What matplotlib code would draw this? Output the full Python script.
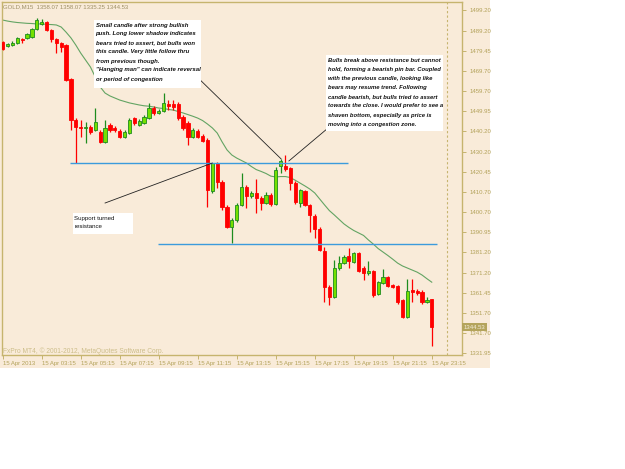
import numpy as np
import matplotlib.pyplot as plt
from matplotlib.patches import Rectangle

W, H = 625, 469

# GOLD M15 candles, 15 Apr 2013
opens = [1483.6, 1481.7, 1482.1, 1483.1, 1485.1, 1485.6, 1486.0, 1489.9, 1492.4, 1493.4,
         1489.5, 1485.1, 1483.1, 1482.1, 1465.6, 1445.6, 1442.2, 1441.7, 1442.2, 1440.7,
         1439.7, 1434.8, 1443.1, 1441.7, 1440.2, 1437.3, 1439.2, 1446.5, 1443.1, 1444.1,
         1446.5, 1451.4, 1449.0, 1450.0, 1453.4, 1453.4, 1453.4, 1447.0, 1444.1, 1437.3,
         1440.2, 1437.8, 1435.8, 1410.9, 1424.6, 1415.3, 1403.2, 1393.4, 1396.8, 1404.2,
         1412.9, 1408.5, 1410.0, 1407.5, 1405.1, 1409.0, 1404.6, 1423.2, 1423.1, 1422.1,
         1414.8, 1405.1, 1410.9, 1404.2, 1398.7, 1392.4, 1381.7, 1364.1, 1359.3, 1373.4,
         1375.8, 1379.3, 1376.3, 1380.7, 1373.4, 1371.0, 1371.9, 1360.7, 1366.1, 1369.0,
         1365.1, 1364.6, 1357.7, 1349.5, 1362.7, 1362.2, 1361.7, 1356.8, 1358.07]
highs = [1484.1, 1483.1, 1484.1, 1486.0, 1485.6, 1488.0, 1490.4, 1495.3, 1494.8, 1493.8,
         1489.9, 1485.6, 1483.6, 1482.6, 1466.1, 1446.5, 1445.6, 1444.6, 1443.1, 1451.4,
         1440.7, 1445.6, 1444.1, 1442.6, 1441.2, 1440.7, 1446.5, 1447.0, 1446.0, 1448.0,
         1453.9, 1452.4, 1450.9, 1458.7, 1455.3, 1455.3, 1454.4, 1448.0, 1445.1, 1441.7,
         1441.2, 1438.7, 1436.8, 1424.6, 1425.1, 1416.3, 1404.2, 1397.8, 1405.1, 1419.7,
         1413.9, 1410.9, 1416.8, 1408.5, 1410.5, 1410.0, 1422.7, 1426.6, 1428.5, 1422.7,
         1415.8, 1411.9, 1411.4, 1404.6, 1399.7, 1393.4, 1383.6, 1365.1, 1377.3, 1379.2,
         1379.7, 1383.1, 1381.2, 1381.2, 1374.4, 1376.8, 1372.4, 1367.1, 1372.9, 1369.5,
         1365.6, 1365.1, 1358.3, 1368.0, 1368.0, 1363.1, 1362.7, 1359.3, 1358.07]
lows = [1479.7, 1481.2, 1481.7, 1482.6, 1483.1, 1485.1, 1485.6, 1489.5, 1491.9, 1489.0,
        1483.6, 1478.2, 1478.7, 1464.6, 1440.7, 1424.6, 1437.3, 1434.4, 1438.7, 1440.2,
        1434.4, 1434.4, 1439.7, 1439.7, 1436.8, 1436.8, 1438.7, 1443.1, 1442.6, 1443.6,
        1446.0, 1448.0, 1448.5, 1449.5, 1450.4, 1450.4, 1445.6, 1440.7, 1433.4, 1436.8,
        1436.8, 1434.8, 1403.2, 1410.0, 1412.4, 1401.7, 1392.9, 1385.6, 1395.8, 1403.7,
        1402.7, 1407.5, 1400.2, 1401.7, 1404.6, 1403.7, 1404.2, 1419.7, 1420.7, 1411.4,
        1404.6, 1403.2, 1403.7, 1391.0, 1388.0, 1381.6, 1356.8, 1355.4, 1358.8, 1372.4,
        1375.3, 1373.4, 1375.8, 1371.5, 1367.5, 1370.0, 1359.3, 1360.2, 1365.6, 1364.1,
        1363.6, 1355.9, 1349.0, 1349.0, 1356.8, 1360.2, 1355.9, 1356.3, 1335.25]
closes = [1480.2, 1482.6, 1483.1, 1485.6, 1484.6, 1487.5, 1489.9, 1494.3, 1493.4, 1489.5,
          1485.1, 1483.1, 1481.2, 1465.1, 1445.6, 1442.2, 1441.7, 1442.2, 1439.7, 1444.6,
          1434.8, 1441.7, 1440.7, 1440.7, 1437.3, 1439.7, 1445.6, 1444.1, 1445.1, 1447.0,
          1451.4, 1449.0, 1450.0, 1453.9, 1452.4, 1452.0, 1446.5, 1441.7, 1437.3, 1440.7,
          1437.3, 1435.3, 1411.4, 1424.6, 1415.3, 1403.2, 1393.4, 1396.8, 1404.2, 1412.9,
          1408.5, 1410.0, 1407.5, 1405.1, 1409.0, 1404.6, 1421.2, 1425.6, 1421.6, 1414.8,
          1405.6, 1411.4, 1404.2, 1399.3, 1392.4, 1382.2, 1364.1, 1359.2, 1373.4, 1375.8,
          1378.8, 1376.8, 1380.7, 1371.9, 1371.0, 1371.9, 1360.2, 1366.6, 1369.0, 1364.6,
          1364.1, 1356.8, 1349.5, 1362.2, 1361.7, 1361.2, 1356.8, 1357.8, 1344.53]

# moving average line (green), one reading per bar
ma_values = [1494.3, 1493.8, 1493.4, 1493.1, 1492.9, 1492.7, 1492.6, 1492.4, 1492.4, 1492.2,
             1492.1, 1491.9, 1490.9, 1488.4, 1485.6, 1482.1, 1478.2, 1474.8, 1471.4, 1466.5,
             1461.7, 1458.7, 1457.3, 1456.3, 1455.3, 1454.6, 1453.9, 1453.4, 1452.9, 1452.5,
             1452.3, 1451.9, 1451.4, 1451.2, 1450.7, 1450.4, 1449.7, 1449.0, 1448.2, 1447.4,
             1446.5, 1445.3, 1443.6, 1441.7, 1439.2, 1434.9, 1431.0, 1428.5, 1427.0, 1425.8,
             1424.6, 1422.9, 1421.4, 1420.5, 1419.5, 1418.2, 1417.8, 1418.0, 1418.0, 1417.5,
             1416.2, 1414.8, 1413.4, 1411.9, 1410.0, 1407.1, 1404.2, 1401.4, 1399.3, 1397.1,
             1394.9, 1393.2, 1391.7, 1390.5, 1389.3, 1387.1, 1385.1, 1382.9, 1381.2, 1379.5,
             1377.7, 1375.8, 1374.4, 1373.4, 1372.4, 1371.4, 1370.0, 1368.2, 1366.5]

price_ticks = [1499.20, 1489.20, 1479.45, 1469.70, 1459.70, 1449.95, 1440.20, 1430.20, 1420.45,
               1410.70, 1400.70, 1390.95, 1381.20, 1371.20, 1361.45, 1351.70, 1341.70, 1331.95]
time_tick_bars = [0, 8, 16, 24, 32, 40, 48, 56, 64, 72, 80, 88]
time_labels = ["15 Apr 2013", "15 Apr 03:15", "15 Apr 05:15", "15 Apr 07:15", "15 Apr 09:15",
               "15 Apr 11:15", "15 Apr 13:15", "15 Apr 15:15", "15 Apr 17:15", "15 Apr 19:15",
               "15 Apr 21:15", "15 Apr 23:15"]

resistance_level = 1424.6
resistance_bars = (13.8, 70.8)
support_level = 1385.35
support_bars = (31.9, 89.1)
shift_bar = 91.1
last_price = 1344.53

# pointer lines: (bar, price) -> (bar, price)
pointers = [((40.5, 1465.1), (57.1, 1426.6)),
            ((66.5, 1441.2), (58.7, 1425.6)),
            ((21.0, 1405.1), (43.0, 1424.6))]

note1 = ("Small candle after strong bullish\npush. Long lower shadow indicates\n"
         "bears tried to assert, but bulls won\nthis candle. Very little follow thru\n"
         "from previous though.\n\"Hanging man\" can indicate reversal\nor period of congestion")
note2 = ("Bulls break above resistance but cannot\nhold, forming a bearish pin bar. Coupled\n"
         "with the previous candle, looking like\nbears may resume trend. Following\n"
         "candle bearish, but bulls tried to assert\ntowards the close. I would prefer to see a\n"
         "shaven bottom, especially as price is\nmoving into a congestion zone.")
note3 = "Support turned\nresistance"

CREAM = '#F9EBD9'
OLIVE = '#C6B46E'
TXT = '#B3A25A'
plt.rcParams['font.family'] = ['Liberation Sans', 'DejaVu Sans']

fig = plt.figure(figsize=(W / 100, H / 100), dpi=100, facecolor='white')
fig.patches.append(Rectangle((0, 1 - 368 / H), 490 / W, 368 / H, transform=fig.transFigure,
                             facecolor=CREAM, edgecolor='none', zorder=-5))
ax = fig.add_axes([2 / W, 1 - 355 / H, 460 / W, 353 / H])
ax.set_facecolor(CREAM)
for s in ax.spines.values():
    s.set_color(OLIVE)
    s.set_linewidth(1)

x = np.arange(len(opens))
o = np.array(opens); c = np.array(closes)
up = c >= o
fill = np.where(up, '#74E000', '#FF0000')
edge = np.where(up, '#1E8C1E', '#FF0000')
wick = np.where(up, '#1E8C1E', '#FF0000')

ax.plot(x, ma_values, color='#63A463', lw=0.8, zorder=2)
ax.vlines(x, lows, highs, colors=wick, lw=0.9, zorder=3)
ax.bar(x, np.abs(c - o), 0.66, bottom=np.minimum(o, c), color=fill, edgecolor=edge,
       linewidth=0.6, zorder=4)

ax.hlines(resistance_level, *resistance_bars, color='#3C9BDC', lw=1, zorder=5)
ax.hlines(support_level, *support_bars, color='#3C9BDC', lw=1, zorder=5)
ax.axvline(shift_bar, color=OLIVE, lw=0.8, ls=(0, (2, 2)), zorder=1)

for (x0, y0), (x1, y1) in pointers:
    ax.plot([x0, x1], [y0, y1], color='#222222', lw=0.6, zorder=6)

ax.set_xlim(-0.14, 94.2)
ax.set_ylim(1331.0, 1503.1)
ax.yaxis.tick_right()
ax.set_yticks(price_ticks)
ax.set_yticklabels(['%.2f' % v for v in price_ticks])
ax.set_xticks(time_tick_bars)
ax.set_xticklabels(time_labels, ha='left')
ax.tick_params(axis='both', length=3, width=0.7, color=OLIVE, labelcolor=TXT,
               labelsize=4.3, pad=1.5)
ax.tick_params(axis='y', pad=2.5)

ax.text(1.003, last_price, '%.2f' % last_price, transform=ax.get_yaxis_transform(),
        va='center', ha='left', fontsize=4.3, color='#F4EEDC', zorder=7, clip_on=False,
        bbox=dict(boxstyle='square,pad=0.25', fc='#B4A45C', ec='none'))


def px(xp, yp):
    return xp / W, 1 - yp / H


def note_box(x0, y0, x1, y1, text, style, weight, size, spacing):
    fig.patches.append(Rectangle(px(x0, y1), (x1 - x0) / W, (y1 - y0) / H,
                                 transform=fig.transFigure, facecolor='white',
                                 edgecolor='none', zorder=8))
    fig.text(*px(x0 + 1.5, y0 + 2.5), text, fontsize=size, style=style, weight=weight,
             color='#111111', va='top', ha='left', linespacing=spacing, zorder=9)


note_box(94, 20, 201, 88, note1, 'italic', 'bold', 4.3, 2.0)
note_box(326, 55, 443, 131, note2, 'italic', 'bold', 4.2, 2.05)
note_box(73, 213, 133, 234, note3, 'normal', 'normal', 4.4, 1.9)

fig.text(*px(3, 6.5), 'GOLD,M15  1358.07 1358.07 1335.25 1344.53', fontsize=4.3,
         color='#9E9066', va='center', ha='left')
fig.text(*px(3, 351), 'FxPro MT4, \u00a9 2001-2012, MetaQuotes Software Corp.', fontsize=4.8,
         color='#CDBE8A', va='center', ha='left')

fig.savefig('out.png', dpi=100, facecolor='white')
